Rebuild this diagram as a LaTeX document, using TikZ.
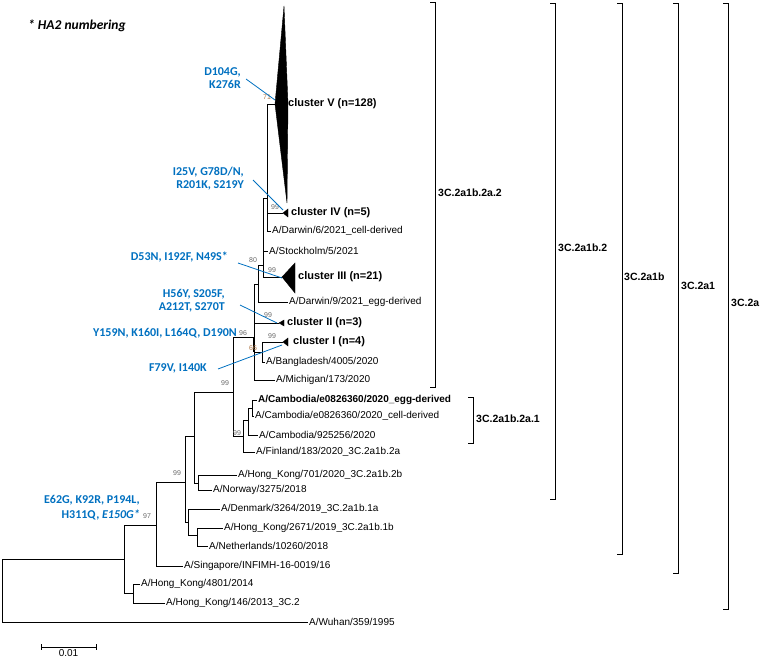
\documentclass[tikz,border=0pt]{standalone}
\usepackage{fontspec}
\setmainfont{Liberation Sans}
\newfontfamily\blueface{Carlito}
\usetikzlibrary{positioning}

\definecolor{mutblue}{RGB}{0,112,192}
\definecolor{bootgray}{RGB}{105,105,105}
\definecolor{bootbrown}{RGB}{176,120,72}

\begin{document}
\begin{tikzpicture}[
    x=1pt, y=-1pt,
    branch/.style={line width=0.8pt, black},
    tip/.style={
        anchor=west, inner sep=1pt,
        font={\fontsize{10}{10}\selectfont}
    },
    tipbold/.style={tip, font={\fontsize{10}{10}\selectfont\bfseries}},
    clade/.style={fill=black, draw=black, line width=0.4pt, line join=miter},
    clab/.style={anchor=west, inner sep=1pt, font={\fontsize{11}{12}\selectfont\bfseries}},
    boot/.style={inner sep=0pt, text=bootgray, font={\fontsize{7}{7}\selectfont}},
    mut/.style={
        anchor=east, align=right, inner sep=0pt, text=mutblue,
        font={\blueface\fontsize{12}{13}\selectfont\bfseries}
    },
    mutline/.style={mutblue, line width=0.8pt},
    brk/.style={line width=0.9pt},
    brklab/.style={anchor=west, inner sep=1pt, font={\fontsize{10.5}{12}\selectfont\bfseries}}
]
\useasboundingbox (0,0) rectangle (762,660);

% Legende
\node[anchor=west, inner sep=0pt, font={\blueface\fontsize{13.5}{14}\selectfont\bfseries\itshape}]
    (ha2) at (28,26) {* HA2 numbering};

% innere Knoten
\coordinate (root) at (2,590);
\coordinate (n1)   at (124,559);
\coordinate (nhk)  at (133,593);
\coordinate (n97)  at (156,525);
\coordinate (n99a) at (185,482);
\coordinate (nden) at (188,522);
\coordinate (nned) at (197,535);
\coordinate (n99b) at (194,436);
\coordinate (nnor) at (198,483);
\coordinate (n99c) at (233,392);
\coordinate (nfin) at (243,436);
\coordinate (ncam) at (248,420);
\coordinate (ncmb) at (252,408);
\coordinate (n96)  at (254,337);
\coordinate (ndar) at (258,284);
\coordinate (nsto) at (263,265);
\coordinate (ntop) at (267,198);
\coordinate (nban) at (262,352);

% Cluster (kollabiert)
\coordinate (cV)   at (275,104);
\coordinate (cIV)  at (283,213);
\coordinate (cIII) at (282,277);
\coordinate (cII)  at (279,323);
\coordinate (cI)   at (283,342);

\fill[clade] (cV) -- (284,6) -- (288,104) -- (287,203) -- cycle;
\fill[clade] (cIV) -- ++(5,-4) -- ++(0,8) -- cycle;
\fill[clade] (cIII) -- ++(13,-14) -- ++(0,30) -- cycle;
\fill[clade] (cII) -- ++(5,-3) -- ++(0,6) -- cycle;
\fill[clade] (cI) -- ++(5,-4) -- ++(0,8) -- cycle;

\node[clab] (labV)   at (287,104) {cluster V (n=128)};
\node[clab] (labIV)  at (290,213) {cluster IV (n=5)};
\node[clab] (labIII) at (297,277) {cluster III (n=21)};
\node[clab] (labII)  at (286,323) {cluster II (n=3)};
\node[clab] (labI)   at (292,342) {cluster I (n=4)};

% Blaetter
\node[tip] (darw6) at (271,231) {A/Darwin/6/2021\_cell-derived};
\node[tip] (stock) at (268,251) {A/Stockholm/5/2021};
\node[tip] (darw9) at (288,302) {A/Darwin/9/2021\_egg-derived};
\node[tip] (bangl) at (265,362) {A/Bangladesh/4005/2020};
\node[tip] (michi) at (275,380) {A/Michigan/173/2020};
\node[tipbold] (camegg) at (257,400) {A/Cambodia/e0826360/2020\_egg-derived};
\node[tip] (camcell) at (254,416) {A/Cambodia/e0826360/2020\_cell-derived};
\node[tip] (cam925) at (258,435) {A/Cambodia/925256/2020};
\node[tip] (finla) at (255,452) {A/Finland/183/2020\_3C.2a1b.2a};
\node[tip] (hk701) at (237,475) {A/Hong\_Kong/701/2020\_3C.2a1b.2b};
\node[tip] (norwa) at (212,490) {A/Norway/3275/2018};
\node[tip] (denma) at (220,509) {A/Denmark/3264/2019\_3C.2a1b.1a};
\node[tip] (hk2671) at (223,528) {A/Hong\_Kong/2671/2019\_3C.2a1b.1b};
\node[tip] (nethe) at (208,546) {A/Netherlands/10260/2018};
\node[tip] (singa) at (183,566) {A/Singapore/INFIMH-16-0019/16};
\node[tip] (hk4801) at (140,584) {A/Hong\_Kong/4801/2014};
\node[tip] (hk146) at (165,603) {A/Hong\_Kong/146/2013\_3C.2};
\node[tip] (wuhan) at (308,622) {A/Wuhan/359/1995};

% Aeste
\draw[branch] (root) |- (n1) (root) |- (wuhan.west);
\draw[branch] (n1) |- (n97) (n1) |- (nhk);
\draw[branch] (nhk) |- (hk4801.west) (nhk) |- (hk146.west);
\draw[branch] (n97) |- (n99a) (n97) |- (singa.west);
\draw[branch] (n99a) |- (n99b) (n99a) |- (nden);
\draw[branch] (nden) |- (denma.west) (nden) |- (nned);
\draw[branch] (nned) |- (hk2671.west) (nned) |- (nethe.west);
\draw[branch] (n99b) |- (n99c) (n99b) |- (nnor);
\draw[branch] (nnor) |- (hk701.west) (nnor) |- (norwa.west);
\draw[branch] (n99c) |- (n96) (n99c) |- (nfin);
\draw[branch] (nfin) |- (ncam) (nfin) |- (finla.west);
\draw[branch] (ncam) |- (ncmb) (ncam) |- (cam925.west);
\draw[branch] (ncmb) |- (camegg.west) (ncmb) |- (camcell.west);
\draw[branch] (n96) |- (ndar) (n96) |- (cII) (n96) |- (nban) (n96) |- (michi.west);
\draw[branch, line width=1.6pt] (n96) -- (n96 |- nban);
\draw[branch] (nban) |- (cI) (nban) |- (bangl.west);
\draw[branch] (ndar) |- (nsto) (ndar) |- (darw9.west);
\draw[branch] (nsto) |- (ntop) (nsto) |- (stock.west) (nsto) |- (cIII);
\draw[branch] (ntop) |- (cV) (ntop) |- (cIV) (ntop) |- (darw6.west);

% Bootstrap-Werte
\node[boot, text=bootbrown] (b71) at (267,97) {71};
\node[boot] (b99iv)  at (275,207) {99};
\node[boot] (b80)    at (253,260) {80};
\node[boot] (b99iii) at (272,270) {99};
\node[boot] (b99ii)  at (268,315) {99};
\node[boot] (b96)    at (243,333) {96};
\node[boot] (b99i)   at (272,336) {99};
\node[boot, text=bootbrown] (b66) at (253,348) {66};
\node[boot] (b99c)   at (225,383) {99};
\node[boot] (b99f)   at (237,433) {99};
\node[boot] (b99a)   at (177,473) {99};
\node[boot] (b97)    at (147,516) {97};

% Mutationen
\node[mut] (mutV)   at (241,78)  {D104G,\\K276R};
\node[mut] (mutIV)  at (244,179) {I25V, G78D/N,\\R201K, S219Y};
\node[mut] (mutIII) at (228,257) {D53N, I192F, N49S*};
\node[mut] (mutII)  at (225,301) {H56Y, S205F,\\A212T, S270T};
\node[mut] (mut96)  at (237,333) {Y159N, K160I, L164Q, D190N};
\node[mut] (mutI)   at (207,368) {F79V, I140K};
\node[mut, font={\blueface\fontsize{12}{15}\selectfont\bfseries}]
    (mut97) at (140,508) {E62G, K92R, P194L,\\H311Q, \textit{E150G*}};

\coordinate (pV)   at (275,100);
\coordinate (pIV)  at (283,210);
\coordinate (pIII) at (282,278);
\coordinate (pII)  at (277,323);
\coordinate (pI)   at (282,345);

\draw[mutline] ([shift={(5,1)}]mutV.east) -- (pV);
\draw[mutline] ([shift={(9,1)}]mutIV.east) -- (pIV);
\draw[mutline] ([shift={(10,6)}]mutIII.east) -- (pIII);
\draw[mutline] ([shift={(15,4)}]mutII.east) -- (pII);
\draw[mutline] ([shift={(11,1)}]mutI.east) -- (pI);

% Klammern der Kladen
\draw[brk] (430,2) -- (435,2) -- (435,387) -- (430,387);
\node[brklab] (k2a2) at (437,193) {3C.2a1b.2a.2};
\draw[brk] (468,397) -- (473,397) -- (473,443) -- (468,443);
\node[brklab] (k2a1) at (475,419) {3C.2a1b.2a.1};
\draw[brk] (550,3) -- (555,3) -- (555,499) -- (550,499);
\node[brklab] (k2) at (557,248) {3C.2a1b.2};
\draw[brk] (617,3) -- (622,3) -- (622,554) -- (617,554);
\node[brklab] (k1b) at (623,277) {3C.2a1b};
\draw[brk] (673,3) -- (678,3) -- (678,573) -- (673,573);
\node[brklab] (k1) at (680,286) {3C.2a1};
\draw[brk] (723,3) -- (728,3) -- (728,609) -- (723,609);
\node[brklab] (k0) at (730,303) {3C.2a};

% Massstab
\coordinate (sb0) at (41,647);
\coordinate (sb1) at (96,647);
\draw[branch] (sb0) -- (sb1) node[midway, below=1pt, inner sep=1pt,
    font={\fontsize{10}{10}\selectfont}] (sblab) {0.01};
\draw[branch] ([yshift=3pt]sb0) -- ([yshift=-3pt]sb0);
\draw[branch] ([yshift=3pt]sb1) -- ([yshift=-3pt]sb1);

\end{tikzpicture}
\end{document}
